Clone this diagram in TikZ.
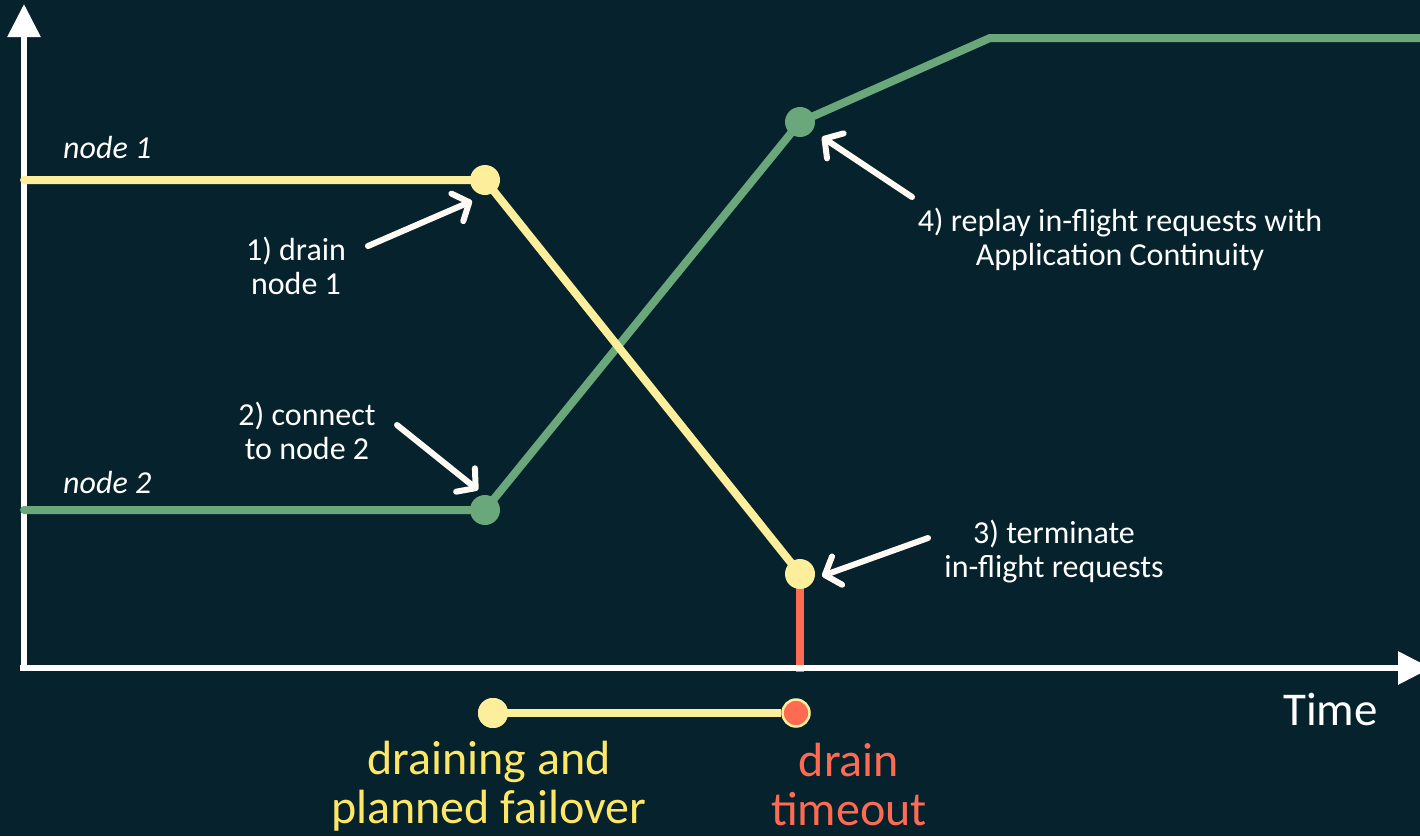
\documentclass[tikz,border=0pt]{standalone}
\usepackage{fontspec}
\setmainfont{Carlito}
\usetikzlibrary{arrows.meta}
\definecolor{bg}{HTML}{06222D}
\definecolor{ylw}{HTML}{FCEE9A}
\definecolor{ylwtxt}{HTML}{FFE766}
\definecolor{grn}{HTML}{6AA77B}
\definecolor{rd}{HTML}{FF6B52}
\definecolor{wht}{HTML}{FFFAF4}
\tikzset{
  axisline/.style={draw=white, line width=6pt, -{Triangle[length=33pt,width=32pt]}},
  yline/.style={draw=ylw, line width=8pt, line cap=round, line join=round},
  gline/.style={draw=grn, line width=8pt, line cap=round, line join=miter},
  rline/.style={draw=rd, line width=8pt},
  ydot/.style={circle, fill=ylw, minimum size=30pt, inner sep=0pt},
  gdot/.style={circle, fill=grn, minimum size=30pt, inner sep=0pt},
  rdot/.style={circle, fill=rd, draw=ylw, line width=2.5pt, minimum size=27pt, inner sep=0pt},
  note/.style={text=white, font=\fontsize{32}{34}\selectfont, align=center, inner sep=0pt},
  lbl/.style={text=white, font=\fontsize{32}{34}\selectfont\itshape, inner sep=0pt, anchor=base west},
  big/.style={font=\fontsize{48}{49}\selectfont, align=center, inner sep=0pt},
  pointer/.style={draw=wht, line width=6pt, line cap=round, -{Straight Barb[length=13pt,width=30pt,round]}}
}
\begin{document}
\begin{tikzpicture}[x=1pt,y=-1pt]
\fill[bg] (0,0) rectangle (1420,836);
\useasboundingbox (0,0) rectangle (1420,836);
% key positions
\coordinate (o) at (24,668);
\coordinate (ytip) at (24,4);
\coordinate (xtip) at (1431,668);
\coordinate (n1s) at (24,180);
\coordinate (n2s) at (24,510);
\coordinate (p1) at (485,180);
\coordinate (p2) at (485,510);
\coordinate (p3) at (800,574);
\coordinate (p4) at (800,122);
\coordinate (p5) at (990,38);
\coordinate (gend) at (1430,38);
\coordinate (rbot) at (800,672);
% red drain line
\draw[rline] (p3) -- (rbot);
% axes
\draw[axisline] (o) -- (ytip);
\draw[axisline] ([xshift=-4pt]o) -- (xtip);
% node lines
\draw[gline] (n2s) -- (p2) -- (p4) -- (p5) -- (gend);
\draw[yline] (n1s) -- (p1) -- (p3);
% dots
\node[ydot] (d1) at (p1) {};
\node[gdot] (d2) at (p2) {};
\node[ydot] (d3) at (p3) {};
\node[gdot] (d4) at (p4) {};
% labels
\node[lbl] (l1) at (63,158) {node 1};
\node[lbl] (l2) at (63,493) {node 2};
\node[note] (t1) at (296,266) {1) drain\\node 1};
\node[note] (t2) at (307,431) {2) connect\\to node 2};
\node[note] (t3) at (1054,552) {3) terminate\\in-flight requests};
\node[note] (t4) at (1120,239) {4) replay in-flight requests with\\Application Continuity};
\node[text=white, font=\fontsize{47}{50}\selectfont, inner sep=0pt, anchor=base west] (time) at (1283,725) {Time};
% pointers
\coordinate (a1s) at (368,246); \coordinate (a1e) at (472,201);
\coordinate (a2s) at (397,425); \coordinate (a2e) at (478,490);
\coordinate (a3s) at (928,538); \coordinate (a3e) at (822,576);
\coordinate (a4s) at (912,197); \coordinate (a4e) at (822,137);
\draw[pointer] (a1s) -- (a1e);
\draw[pointer] (a2s) -- (a2e);
\draw[pointer] (a3s) -- (a3e);
\draw[pointer] (a4s) -- (a4e);
% bottom legend
\node[ydot] (b1) at (493,713) {};
\node[rdot] (b2) at (796,713) {};
\draw[draw=ylw, line width=8pt] (b1.center) -- (b2.west);
\node[ydot] at (b1) {};
\node[big, text=ylwtxt] (leg1) at (489,786) {draining and\\planned failover};
\node[big, text=rd] (leg2) at (849,784) {drain\\timeout};
\end{tikzpicture}
\end{document}
